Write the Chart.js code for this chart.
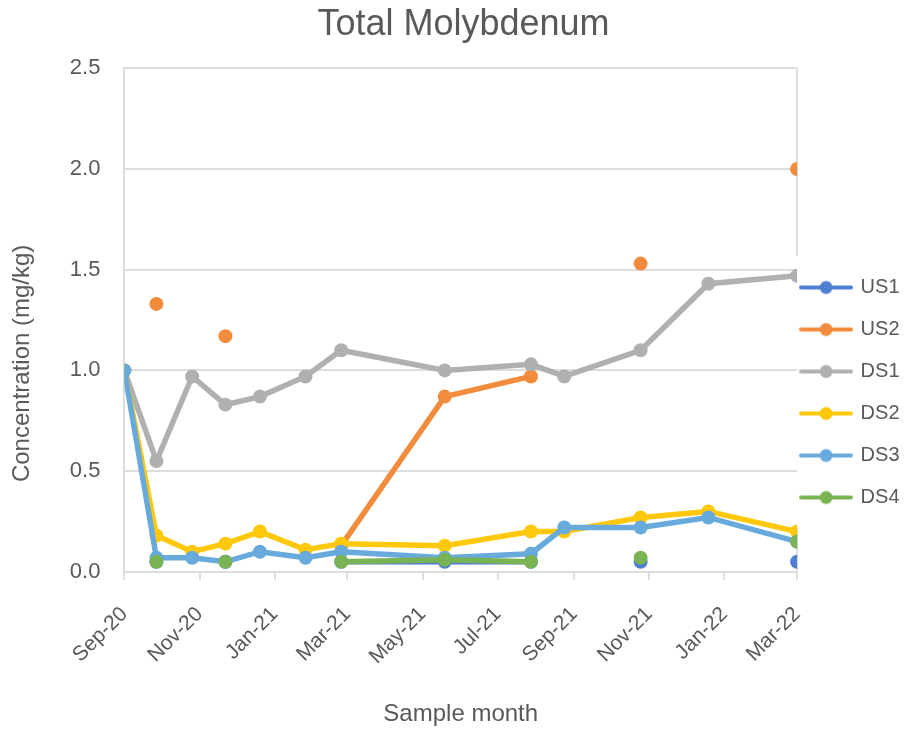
<!DOCTYPE html>
<html>
<head>
<meta charset="utf-8">
<title>Total Molybdenum</title>
<script src="https://cdn.jsdelivr.net/npm/chart.js@4.4.1/dist/chart.umd.min.js"></script>
<style>
  html, body { margin: 0; padding: 0; background: #fff; }
  #moChart { display: block; }
</style>
</head>
<body>
<canvas id="moChart" width="909" height="733"></canvas>
<script>
// sampling dates and results (mg/kg), null = not sampled / no result
const sampleDates = ['2020-09-01', '2020-09-27', '2020-10-26', '2020-11-22', '2020-12-20', '2021-01-26',
  '2021-02-24', '2021-05-19', '2021-07-28', '2021-08-24', '2021-10-25', '2021-12-19', '2022-03-01'];

const us1 = [null, 0.05, null, 0.05, null, null, 0.05, 0.05, 0.05, null, 0.05, null, 0.05];
const us2 = [null, 1.33, null, 1.17, null, null, 0.13, 0.87, 0.97, null, 1.53, null, 2.0];
const ds1 = [1.0, 0.55, 0.97, 0.83, 0.87, 0.97, 1.1, 1.0, 1.03, 0.97, 1.1, 1.43, 1.47];
const ds2 = [1.0, 0.18, 0.1, 0.14, 0.2, 0.11, 0.14, 0.13, 0.2, 0.2, 0.27, 0.3, 0.2];
const ds3 = [1.0, 0.07, 0.07, 0.05, 0.1, 0.07, 0.1, 0.07, 0.09, 0.22, 0.22, 0.27, 0.15];
const ds4 = [null, 0.05, null, 0.05, null, null, 0.05, 0.06, 0.05, null, 0.07, null, 0.15];

const seriesNames = ['US1', 'US2', 'DS1', 'DS2', 'DS3', 'DS4'];
const seriesColors = ['#4F7FD2', '#F28C3C', '#B0B0B0', '#FFC80A', '#69AADD', '#7AB354'];

// x axis: month starts every two months
const tickMonths = ['2020-09-01', '2020-11-01', '2021-01-01', '2021-03-01', '2021-05-01',
  '2021-07-01', '2021-09-01', '2021-11-01', '2022-01-01', '2022-03-01'];

const DAY = 86400000;
const origin = Date.UTC(2020, 8, 1);
const monthNames = ['Jan', 'Feb', 'Mar', 'Apr', 'May', 'Jun', 'Jul', 'Aug', 'Sep', 'Oct', 'Nov', 'Dec'];
const textColor = '#595959';
const gridColor = '#DDDDDD';

function toDays(s) {
  const p = s.split('-');
  return Math.round((Date.UTC(+p[0], +p[1] - 1, +p[2]) - origin) / DAY);
}

function monthLabel(days) {
  const d = new Date(origin + days * DAY);
  return monthNames[d.getUTCMonth()] + '-' + String(d.getUTCFullYear()).slice(2);
}

// little line+marker images for the legend
function legendIcon(color) {
  const c = document.createElement('canvas');
  c.width = 54;
  c.height = 16;
  const g = c.getContext('2d');
  g.strokeStyle = color;
  g.lineWidth = 4;
  g.lineCap = 'round';
  g.beginPath();
  g.moveTo(2, 8);
  g.lineTo(52, 8);
  g.stroke();
  g.fillStyle = color;
  g.beginPath();
  g.arc(27, 8, 6.5, 0, Math.PI * 2);
  g.fill();
  return c;
}

const xDays = sampleDates.map(toDays);
const tickDays = tickMonths.map(toDays);
const allSeries = [us1, us2, ds1, ds2, ds3, ds4];

const datasets = allSeries.map((vals, i) => ({
  label: seriesNames[i],
  data: vals.map((v, j) => ({x: xDays[j], y: v})),
  borderColor: seriesColors[i],
  backgroundColor: seriesColors[i],
  borderWidth: 5.5,
  pointRadius: 7,
  pointBorderWidth: 0,
  pointHoverRadius: 7,
  spanGaps: false,
  // later series sit on top
  order: allSeries.length - i
}));

const icons = seriesColors.map(legendIcon);

// pull the legend in against the plot and draw the plot frame
const frame = {
  id: 'frame',
  afterLayout(chart) {
    const lg = chart.legend;
    const dx = chart.chartArea.right + 4.5 - (lg.left + lg.options.labels.padding);
    const dy = 28;
    lg.left += dx;
    lg.right += dx;
    lg.top += dy;
    lg.bottom += dy;
  },
  beforeDatasetsDraw(chart) {
    const {ctx, chartArea} = chart;
    const boxes = chart.legend.legendHitBoxes || [];
    let gapTop = chartArea.bottom, gapBottom = chartArea.bottom;
    if (boxes.length) {
      gapTop = boxes[0].top - 22;
      gapBottom = boxes[boxes.length - 1].top + boxes[boxes.length - 1].height + 20;
    }
    ctx.save();
    ctx.strokeStyle = gridColor;
    ctx.lineWidth = 2;
    ctx.beginPath();
    ctx.moveTo(chartArea.right, chartArea.top);
    ctx.lineTo(chartArea.right, gapTop);
    ctx.moveTo(chartArea.right, gapBottom);
    ctx.lineTo(chartArea.right, chartArea.bottom);
    ctx.stroke();
    ctx.restore();
  }
};

Chart.defaults.font.family = "'Liberation Sans', Arial, sans-serif";
Chart.defaults.color = textColor;

const config = {
  type: 'line',
  data: {datasets: datasets},
  options: {
    responsive: false,
    animation: false,
    layout: {padding: {left: 0, right: -18, top: 0, bottom: 4}},
    plugins: {
      title: {
        display: true,
        text: 'Total Molybdenum',
        color: textColor,
        font: {size: 36, weight: 'normal'},
        padding: {top: 3, bottom: 22}
      },
      legend: {
        position: 'right',
        labels: {
          color: textColor,
          font: {size: 20},
          usePointStyle: true,
          pointStyleWidth: 49,
          padding: 22,
          sort: (a, b) => a.datasetIndex - b.datasetIndex,
          generateLabels(chart) {
            const items = Chart.defaults.plugins.legend.labels.generateLabels(chart);
            items.forEach(it => { it.pointStyle = icons[it.datasetIndex]; });
            return items;
          }
        }
      },
      tooltip: {enabled: false}
    },
    scales: {
      x: {
        type: 'linear',
        min: tickDays[0],
        max: tickDays[tickDays.length - 1],
        afterBuildTicks(scale) {
          scale.ticks = tickDays.map(v => ({value: v}));
        },
        ticks: {
          callback: value => monthLabel(value),
          minRotation: 45,
          maxRotation: 45,
          autoSkip: false,
          padding: 22,
          font: {size: 21},
          color: textColor
        },
        grid: {
          drawOnChartArea: false,
          drawTicks: true,
          tickLength: 8,
          color: gridColor,
          lineWidth: 2
        },
        border: {color: gridColor, width: 2},
        title: {
          display: true,
          text: 'Sample month',
          color: textColor,
          font: {size: 24},
          padding: {top: 9, bottom: 0}
        }
      },
      y: {
        min: 0,
        max: 2.5,
        ticks: {
          stepSize: 0.5,
          callback: value => value.toFixed(1),
          padding: 24,
          font: {size: 22},
          color: textColor
        },
        grid: {
          drawTicks: false,
          color: gridColor,
          lineWidth: 2
        },
        border: {color: gridColor, width: 2},
        title: {
          display: true,
          // trailing spaces push the centred text down a little
          text: 'Concentration (mg/kg)             ',
          color: textColor,
          font: {size: 24},
          padding: {top: 8, bottom: 9}
        }
      }
    }
  },
  plugins: [frame]
};

const moChart = new Chart(document.getElementById('moChart'), config);
</script>
</body>
</html>
